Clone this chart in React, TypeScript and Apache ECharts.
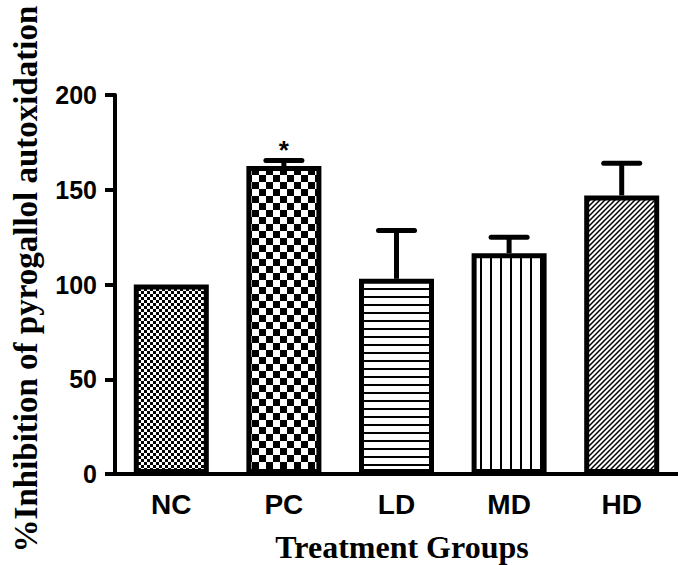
import React, { useEffect, useRef } from "react";
import * as echarts from "echarts";

const categories = ["NC", "PC", "LD", "MD", "HD"];
const means = [100, 162.5, 103, 116.5, 147];
const errors = [0, 3, 25.5, 8.5, 17];
const significance = ["", "*", "", "", ""];
const yTicks = [0, 50, 100, 150, 200];
const patternKinds = ["fineCheck", "coarseCheck", "hLines", "vLines", "diag"];

function makePattern(kind: string) {
  const c = document.createElement("canvas");
  let w = 6, h = 6;
  if (kind === "fineCheck") { w = 6; h = 6; }
  if (kind === "coarseCheck") { w = 14; h = 14; }
  if (kind === "hLines") { w = 8; h = 8; }
  if (kind === "vLines") { w = 10; h = 10; }
  if (kind === "diag") { w = 5; h = 5; }
  c.width = w; c.height = h;
  const ctx = c.getContext("2d")!;
  ctx.fillStyle = "#fff";
  ctx.fillRect(0, 0, w, h);
  ctx.fillStyle = "#000";
  ctx.strokeStyle = "#000";
  if (kind === "fineCheck") {
    ctx.fillRect(0, 0, 3, 3);
    ctx.fillRect(3, 3, 3, 3);
  } else if (kind === "coarseCheck") {
    ctx.fillRect(0, 0, 7, 7);
    ctx.fillRect(7, 7, 7, 7);
  } else if (kind === "hLines") {
    ctx.fillRect(0, 0, 8, 2);
  } else if (kind === "vLines") {
    ctx.fillRect(0, 0, 2, 10);
  } else if (kind === "diag") {
    ctx.lineWidth = 1.5;
    ctx.beginPath();
    ctx.moveTo(-1, 6); ctx.lineTo(6, -1);
    ctx.moveTo(-1, 1); ctx.lineTo(1, -1);
    ctx.moveTo(4, 6); ctx.lineTo(6, 4);
    ctx.stroke();
  }
  return { image: c.toDataURL(), repeat: "repeat", imageWidth: w, imageHeight: h };
}

export default function App() {
  const ref = useRef<HTMLDivElement>(null);
  useEffect(() => {
    document.body.style.margin = "0";
    const chart = echarts.init(ref.current!, undefined, { renderer: "svg" });
    const barData = means.map((v, i) => ({
      value: v,
      itemStyle: { color: makePattern(patternKinds[i]) as any },
    }));
    const errData = means.map((v, i) => [i, v, errors[i]]);
    chart.setOption({
      animation: false,
      backgroundColor: "#fff",
      grid: { left: 115, right: -8, top: 95, bottom: 91, containLabel: false },
      xAxis: {
        type: "category",
        data: categories,
        axisLine: { lineStyle: { color: "#000", width: 4 } },
        axisTick: { alignWithLabel: true, length: 11, lineStyle: { color: "#000", width: 4 } },
        axisLabel: {
          color: "#000",
          fontFamily: "Liberation Sans",
          fontWeight: "bold",
          fontSize: 28,
          margin: 16,
        },
      },
      yAxis: {
        type: "value",
        min: 0,
        max: 200,
        interval: 50,
        splitLine: { show: false },
        axisLine: { show: true, lineStyle: { color: "#000", width: 4 } },
        axisTick: { show: true, length: 10, lineStyle: { color: "#000", width: 4 } },
        axisLabel: {
          color: "#000",
          fontFamily: "Liberation Sans",
          fontWeight: "bold",
          fontSize: 25,
          margin: 18,
          formatter: (v: number) => (yTicks.includes(v) ? String(v) : ""),
        },
      },
      graphic: [
        {
          type: "text",
          x: 26,
          y: 279,
          rotation: Math.PI / 2,
          style: {
            text: "%Inhibition of pyrogallol autoxidation",
            font: "bold 33px 'Liberation Serif'",
            fill: "#000",
            textAlign: "center",
            textVerticalAlign: "middle",
          },
        },
        {
          type: "text",
          x: 402,
          y: 547,
          style: {
            text: "Treatment Groups",
            font: "bold 32px 'Liberation Serif'",
            fill: "#000",
            textAlign: "center",
            textVerticalAlign: "middle",
          },
        },
      ],
      series: [
        {
          type: "bar",
          data: barData,
          barWidth: 75,
          itemStyle: { borderColor: "#000", borderWidth: 5 },
          z: 2,
        },
        {
          type: "custom",
          z: 3,
          data: errData,
          encode: { x: 0, y: 1 },
          renderItem: (params: any, api: any) => {
            const i = api.value(0);
            const m = api.value(1);
            const e = api.value(2);
            const children: any[] = [];
            const base = api.coord([i, m]);
            const top = api.coord([i, m + e]);
            if (e > 0) {
              children.push({
                type: "line",
                shape: { x1: base[0], y1: base[1], x2: top[0], y2: top[1] },
                style: { stroke: "#000", lineWidth: 5 },
              });
              children.push({
                type: "line",
                shape: { x1: top[0] - 18, y1: top[1], x2: top[0] + 18, y2: top[1] },
                style: { stroke: "#000", lineWidth: 5, lineCap: "round" },
              });
            }
            const sig = significance[params.dataIndex];
            if (sig) {
              children.push({
                type: "text",
                style: {
                  text: sig,
                  x: top[0],
                  y: top[1] + 3,
                  font: "bold 26px 'Liberation Sans'",
                  fill: "#000",
                  textAlign: "center",
                  textVerticalAlign: "bottom",
                },
              });
            }
            return { type: "group", children };
          },
        },
      ],
    });
    return () => chart.dispose();
  }, []);
  return <div ref={ref} style={{ width: 678, height: 565 }} />;
}
